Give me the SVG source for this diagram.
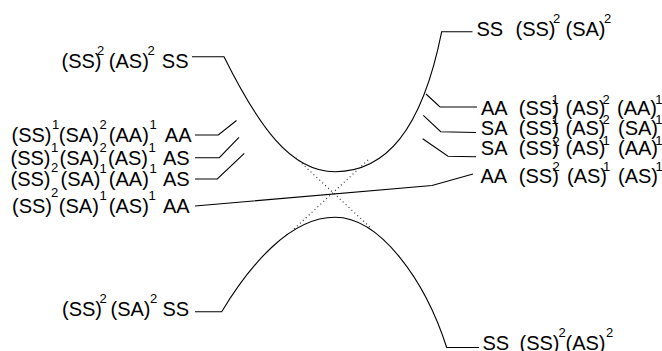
<svg xmlns="http://www.w3.org/2000/svg" width="662" height="351" viewBox="0 0 662 351">
  <style>
    .t { font-family: "Liberation Sans", Arial, sans-serif; font-size: 20px; fill: #000; }
    .s { font-size: 13px; }
    .ln { fill: none; stroke: #000; stroke-width: 1.1; }
    .dot { fill: none; stroke: #333; stroke-width: 1.2; stroke-dasharray: 1 3; }
  </style>

  <!-- potential curves (upper and lower branch) with their end leaders -->
  <g id="curves">
    <path class="ln" d="M192,56.7 L224,56.7 C258,125 290,171.7 335,171.7 C385,171.7 421.7,131.7 441.7,31.7 L472.5,31.7"/>
    <path class="ln" d="M195,311.7 L221.7,311.7 C250,265 290,217.3 335,217.3 C380,217.3 425,280 446.7,347.5 L479,347.5"/>
    <path class="dot" d="M296,158 L372,229"/>
    <path class="dot" d="M368,160 L294,229"/>
  </g>

  <!-- leader lines to the state labels -->
  <g id="connectors">
    <path class="ln" d="M195,135 L218.3,135 L236.5,120.5"/>
    <path class="ln" d="M195,157.7 L219.3,157.7 L239,137.3"/>
    <path class="ln" d="M195,179 L217.3,179 L244.3,153.3"/>
    <path class="ln" d="M195,206 L432,185.5 L473,174"/>
    <path class="ln" d="M426,94 L440,107 L477,107"/>
    <path class="ln" d="M423.3,115.3 L440.7,131.7 L476,132.5"/>
    <path class="ln" d="M422.7,138.8 L448,156.3 L476,156.8"/>
  </g>

  <!-- left side labels -->
  <g id="top-left">
    <text class="t"><tspan x="61.5" y="68">(SS)</tspan><tspan class="s" x="97" y="55">2</tspan><tspan x="108.8" y="68">(AS)</tspan><tspan class="s" x="147.5" y="55">2</tspan><tspan x="161.8" y="68">SS</tspan></text>
  </g>
  <g id="left-1">
    <text class="t"><tspan x="11.5" y="142">(SS)</tspan><tspan class="s" x="52" y="129">1</tspan><tspan x="58.8" y="142">(SA)</tspan><tspan class="s" x="99.5" y="129">2</tspan><tspan x="108.8" y="142">(AA)</tspan><tspan class="s" x="149.5" y="129">1</tspan><tspan x="164.8" y="142">AA</tspan></text>
  </g>
  <g id="left-2">
    <text class="t"><tspan x="10.5" y="165">(SS)</tspan><tspan class="s" x="51" y="152">1</tspan><tspan x="59.5" y="165">(SA)</tspan><tspan class="s" x="99.5" y="152">2</tspan><tspan x="108" y="165">(AS)</tspan><tspan class="s" x="148.5" y="152">1</tspan><tspan x="163" y="165">AS</tspan></text>
  </g>
  <g id="left-3">
    <text class="t"><tspan x="10.5" y="186">(SS)</tspan><tspan class="s" x="51" y="172">2</tspan><tspan x="60.5" y="186">(SA)</tspan><tspan class="s" x="99.5" y="173">1</tspan><tspan x="108.8" y="186">(AA)</tspan><tspan class="s" x="149.5" y="173">1</tspan><tspan x="163" y="186">AS</tspan></text>
  </g>
  <g id="left-4">
    <text class="t"><tspan x="12" y="213.3">(SS)</tspan><tspan class="s" x="51" y="197">2</tspan><tspan x="58.8" y="213.3">(SA)</tspan><tspan class="s" x="99.5" y="200">1</tspan><tspan x="108.8" y="213.3">(AS)</tspan><tspan class="s" x="148.5" y="200">1</tspan><tspan x="163" y="213.3">AA</tspan></text>
  </g>
  <g id="bottom-left">
    <text class="t"><tspan x="62" y="316">(SS)</tspan><tspan class="s" x="99.5" y="303">2</tspan><tspan x="110.5" y="316">(SA)</tspan><tspan class="s" x="150" y="303">2</tspan><tspan x="162.4" y="316">SS</tspan></text>
  </g>

  <!-- right side labels -->
  <g id="top-right">
    <text class="t"><tspan x="476.4" y="35.5">SS</tspan><tspan x="515.5" y="35.5">(SS)</tspan><tspan class="s" x="553" y="23">2</tspan><tspan x="565.5" y="35.5">(SA)</tspan><tspan class="s" x="604" y="23">2</tspan></text>
  </g>
  <g id="right-1">
    <text class="t"><tspan x="481" y="115">AA</tspan><tspan x="518.8" y="115">(SS)</tspan><tspan class="s" x="551.5" y="104">1</tspan><tspan x="565.5" y="115">(AS)</tspan><tspan class="s" x="602.5" y="104">2</tspan><tspan x="617" y="115">(AA)</tspan><tspan class="s" x="655.3" y="104">1</tspan></text>
  </g>
  <g id="right-2">
    <text class="t"><tspan x="480.8" y="135">SA</tspan><tspan x="518.8" y="135">(SS)</tspan><tspan class="s" x="551.5" y="124">1</tspan><tspan x="565.5" y="135">(AS)</tspan><tspan class="s" x="602.5" y="124">2</tspan><tspan x="618" y="135">(SA)</tspan><tspan class="s" x="655.3" y="124">1</tspan></text>
  </g>
  <g id="right-3">
    <text class="t"><tspan x="480.8" y="155">SA</tspan><tspan x="518.8" y="155">(SS)</tspan><tspan class="s" x="552.5" y="146">2</tspan><tspan x="565.5" y="155">(AS)</tspan><tspan class="s" x="602.5" y="145">1</tspan><tspan x="618" y="155">(AA)</tspan><tspan class="s" x="655.3" y="145">1</tspan></text>
  </g>
  <g id="right-4">
    <text class="t"><tspan x="480.5" y="183">AA</tspan><tspan x="518.8" y="183">(SS)</tspan><tspan class="s" x="552.5" y="171">2</tspan><tspan x="567" y="183">(AS)</tspan><tspan class="s" x="603" y="171">1</tspan><tspan x="618" y="183">(AS)</tspan><tspan class="s" x="655.5" y="171">1</tspan></text>
  </g>
  <g id="bottom-right">
    <text class="t"><tspan x="482.4" y="349.5">SS</tspan><tspan x="519.5" y="349.5">(SS)</tspan><tspan class="s" x="558.5" y="337">2</tspan><tspan x="565.5" y="349.5">(AS)</tspan><tspan class="s" x="606" y="337">2</tspan></text>
  </g>
</svg>
